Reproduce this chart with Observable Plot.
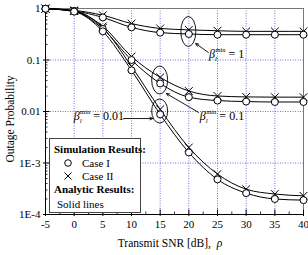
<!DOCTYPE html>
<html><head><meta charset="utf-8">
<script src="https://cdn.jsdelivr.net/npm/d3@7"></script>
<script src="https://cdn.jsdelivr.net/npm/@observablehq/plot@0.6"></script>
<style>
body{margin:0;background:#fff}
#chart{width:308px;height:255px}
#chart svg, #chart svg text, #chart svg tspan{font-family:"Liberation Serif", serif !important;}
</style>
</head><body><div id="chart"></div>
<script>
// ---- data ----
const snr = [-5, 0, 5, 10, 15, 20, 25, 30, 35, 40];
const beta1CaseI   = [0.99, 0.90, 0.67, 0.43, 0.34, 0.32, 0.31, 0.31, 0.31, 0.31];
const beta1CaseII  = [0.995, 0.92, 0.74, 0.51, 0.41, 0.385, 0.37, 0.36, 0.36, 0.36];
const beta01CaseI  = [0.99, 0.88, 0.40, 0.10, 0.035, 0.019, 0.0163, 0.0156, 0.0153, 0.0153];
const beta01CaseII = [0.995, 0.90, 0.45, 0.117, 0.046, 0.025, 0.0200, 0.0192, 0.0190, 0.0190];
const beta001CaseI  = [0.99, 0.87, 0.36, 0.063, 0.0088, 0.0016, 0.00048, 0.00026, 0.00020, 0.00019];
const beta001CaseII = [0.995, 0.89, 0.42, 0.075, 0.011, 0.0020, 0.00061, 0.00031, 0.00025, 0.00023];

const xTicks = [-5, 0, 5, 10, 15, 20, 25, 30, 35, 40];
const xGrid = [0, 5, 10, 15, 20, 25, 30, 35];
const yTicks = [1, 0.1, 0.01, 0.001, 0.0001];
const yTickLabels = ["1", "0.1", "0.01", "1E-3", "1E-4"];
const yGrid = [0.1, 0.01, 0.001];

// annotations (data coordinates)
const betaNames = ["1", "0.1", "0.01"];
const ellipseSnr = [20, 15, 15];
const ellipseP = [0.35, 0.040, 0.0100];
const labelSnr = [23.6, 22.0, 0.0];
const labelP = [0.105, 0.0068, 0.0066];
const arrowFromSnr = [23.4, 21.7, 8.6];
const arrowFromP = [0.14, 0.0096, 0.0073];
const arrowToSnr = [21.2, 16.1, 13.7];
const arrowToP = [0.209, 0.0223, 0.0073];

// ---- build tables ----
const seriesList = [
  {name: "b1-I", vals: beta1CaseI, cas: "I"},
  {name: "b1-II", vals: beta1CaseII, cas: "II"},
  {name: "b01-I", vals: beta01CaseI, cas: "I"},
  {name: "b01-II", vals: beta01CaseII, cas: "II"},
  {name: "b001-I", vals: beta001CaseI, cas: "I"},
  {name: "b001-II", vals: beta001CaseII, cas: "II"}
];
const rows = seriesList.flatMap(s => snr.map((x, i) => ({x, y: s.vals[i], series: s.name, cas: s.cas})));
const minorY = [];
for (const d of [1e-4, 1e-3, 1e-2, 1e-1]) for (let k = 2; k <= 9; k++) minorY.push(d * k);
const minorX = xTicks.slice(0, -1).map(v => v + 2.5);
const arrows = betaNames.map((b, i) => ({x1: arrowFromSnr[i], y1: arrowFromP[i], x2: arrowToSnr[i], y2: arrowToP[i]}));

const W = 308, H = 255, mL = 45, mR = 5, mT = 8, mB = 41;
const pw = W - mL - mR, ph = H - mT - mB;
const gridColor = "#4a4ad8";
const font = "Liberation Serif, serif";

const chart = Plot.plot({
  width: W, height: H,
  marginLeft: mL, marginRight: mR, marginTop: mT, marginBottom: mB,
  style: {fontFamily: font, fontSize: "11px", background: "#fff", color: "#000"},
  x: {domain: [-5, 40], axis: null},
  y: {type: "log", domain: [1e-4, 1], axis: null},
  marks: [
    Plot.ruleX(xGrid, {stroke: gridColor, strokeDasharray: "1,1.5", strokeWidth: 0.8}),
    Plot.ruleY(yGrid, {stroke: gridColor, strokeDasharray: "1,1.5", strokeWidth: 0.8}),
    Plot.frame({stroke: "#777", strokeWidth: 1}),
    Plot.ruleX([-5], {stroke: "#000", strokeWidth: 1}),
    Plot.ruleY([1e-4], {stroke: "#000", strokeWidth: 1}),
    Plot.tickY(minorY, {y: d => d, insetRight: pw - 2.5, stroke: "#000", strokeWidth: 0.8}),
    Plot.tickY(yTicks, {y: d => d, insetRight: pw - 4.5, insetLeft: -2, stroke: "#000"}),
    Plot.tickX(minorX, {x: d => d, insetTop: ph - 2.5, stroke: "#000", strokeWidth: 0.8}),
    Plot.tickX(xTicks, {x: d => d, insetTop: ph - 4.5, insetBottom: -2, stroke: "#000"}),
    Plot.axisX(xTicks, {tickSize: 0, tickPadding: 6, tickFormat: d => String(d), fontSize: 11, label: null}),
    Plot.axisY(yTicks, {tickSize: 0, tickPadding: 5, tickFormat: d => yTickLabels[yTicks.indexOf(d)], fontSize: 11, label: null}),
    Plot.line(rows, {x: "x", y: "y", z: "series", curve: "monotone-x", stroke: "#000", strokeWidth: 1}),
    Plot.dot(rows.filter(d => d.cas === "II"), {x: "x", y: "y", symbol: "times", r: 3.6, stroke: "#000", strokeWidth: 1}),
    Plot.dot(rows.filter(d => d.cas === "I"), {x: "x", y: "y", symbol: "circle", r: 3.5, stroke: "#000", fill: "#fff", strokeWidth: 1}),
    Plot.arrow(arrows, {x1: "x1", y1: "y1", x2: "x2", y2: "y2", stroke: "#000", strokeWidth: 0.9, headLength: 5, headAngle: 50})
  ]
});
document.getElementById("chart").appendChild(chart);

const sx = chart.scale("x"), sy = chart.scale("y");
const svg = d3.select(chart);

const rx = [7.5, 8, 8], ry = [15, 14, 12];
betaNames.forEach((b, i) => {
  svg.append("ellipse")
    .attr("cx", sx.apply(ellipseSnr[i])).attr("cy", sy.apply(ellipseP[i]))
    .attr("rx", rx[i]).attr("ry", ry[i])
    .attr("fill", "none").attr("stroke", "#000").attr("stroke-width", 0.9);
});

betaNames.forEach((b, i) => {
  const t = svg.append("text")
    .attr("x", sx.apply(labelSnr[i])).attr("y", sy.apply(labelP[i]))
    .attr("text-anchor", "start")
    .style("font-size", "12px");
  t.append("tspan").style("font-style", "italic").text("β");
  t.append("tspan").style("font-style", "italic").style("font-size", "7px").attr("dy", 3).text("l");
  t.append("tspan").style("font-size", "6.5px").attr("dx", -1.5).attr("dy", -9).text("min");
  t.append("tspan").attr("dy", 6).text(" = " + b);
});

svg.append("text").attr("x", 170).attr("y", 247).attr("text-anchor", "middle")
  .style("font-size", "11.5px")
  .text("Transmit SNR [dB],  ").append("tspan").style("font-style", "italic").text("ρ");
svg.append("text").attr("transform", "translate(14,119) rotate(-90)").attr("text-anchor", "middle")
  .style("font-size", "11.5px").text("Outage Probability");

const lg = svg.append("g").attr("text-anchor", "start");
lg.append("rect").attr("x", 49.5).attr("y", 138.5).attr("width", 91).attr("height", 74)
  .attr("fill", "#fff").attr("stroke", "#444").attr("stroke-width", 1);
const lt = (x, y, s, bold) => lg.append("text").attr("x", x).attr("y", y).attr("text-anchor", "start")
  .style("font-size", "11px").style("font-weight", bold ? "bold" : "normal").text(s);
lt(54, 153, "Simulation Results:", true);
lg.append("circle").attr("cx", 68).attr("cy", 163).attr("r", 3.3).attr("fill", "none").attr("stroke", "#000");
lt(82, 167, "Case I");
lg.append("path").attr("d", "M64.5,172.5L71.5,179.5M64.5,179.5L71.5,172.5").attr("stroke", "#000");
lt(82, 180, "Case II");
lt(54, 193, "Analytic Results:", true);
lt(57, 208, "Solid lines");
</script>
</body></html>
